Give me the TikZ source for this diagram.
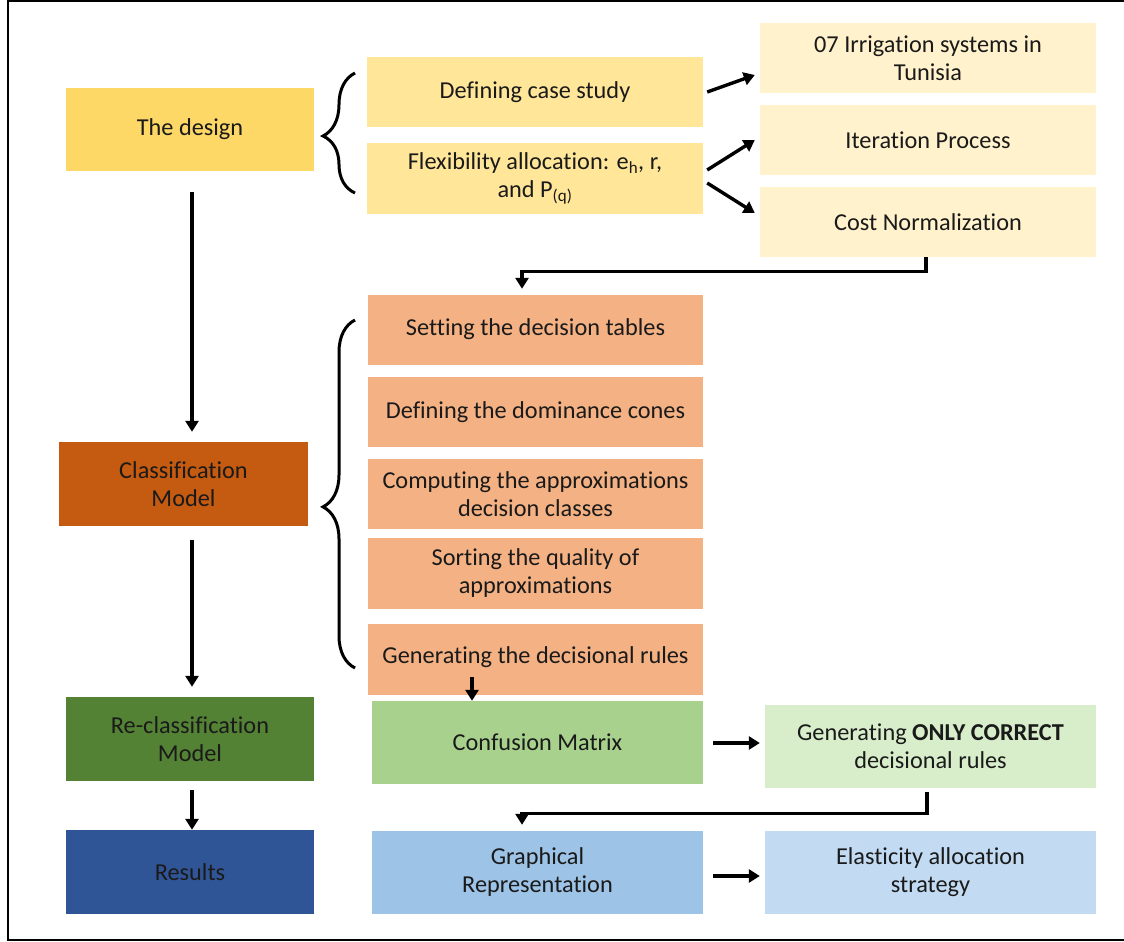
\documentclass[tikz,border=0pt]{standalone}
\usepackage{fontspec}
\setmainfont[Ligatures=NoCommon]{Carlito}
\usetikzlibrary{arrows.meta,decorations.pathreplacing,calc}
\definecolor{cDesign}{HTML}{FDD866}
\definecolor{cYel}{HTML}{FFE699}
\definecolor{cYelL}{HTML}{FFF2CC}
\definecolor{cClass}{HTML}{C55A11}
\definecolor{cOra}{HTML}{F4B183}
\definecolor{cRecl}{HTML}{548235}
\definecolor{cGrn}{HTML}{A9D18E}
\definecolor{cGrnL}{HTML}{D8EECB}
\definecolor{cRes}{HTML}{2F5597}
\definecolor{cBlu}{HTML}{9DC3E6}
\definecolor{cBluL}{HTML}{C2DBF3}
\definecolor{cTxt}{HTML}{1A1A1A}
\tikzset{
  box/.style={rectangle, inner sep=0pt, align=center, text=cTxt,
    font=\fontsize{24.3}{28}\selectfont},
  arr/.style={line width=3.4pt, -{Triangle[length=11pt,width=13pt]}},
  brc/.style={line width=3pt, decorate, decoration={brace, amplitude=32pt}}
}
\newcommand\bx[7]{\node[box, fill=#6, minimum width={(#4-#2)*1pt}, minimum height={(#5-#3)*1pt}] (#1) at ({(#2+#4)/2},{(#3+#5)/2}) {#7};}
\begin{document}
\begin{tikzpicture}[x=1pt,y=-1pt]
\useasboundingbox (0,0) rectangle (1124,942);
\draw[line width=2.4pt] (8,1) rectangle (1134,940);
% left column
\bx{design}{66}{88}{314}{171}{cDesign}{The design}
\bx{class}{59}{442}{308}{526}{cClass}{Classification\\Model}
\bx{recl}{66}{697}{314}{781}{cRecl}{Re-classification\\Model}
\bx{res}{66}{830}{314}{914}{cRes}{Results}
% design branch
\bx{defcase}{367}{57}{703}{127}{cYel}{Defining case study}
\bx{flex}{367}{143}{703}{214}{cYel}{Flexibility allocation: e\textsubscript{h}, r,\\and P\textsubscript{(q)}}
\bx{irr}{760}{23}{1096}{93}{cYelL}{07 Irrigation systems in\\Tunisia}
\bx{iter}{760}{105}{1096}{175}{cYelL}{Iteration Process}
\bx{cost}{760}{187}{1096}{257}{cYelL}{Cost Normalization}
% classification branch
\bx{set}{368}{295}{703}{365}{cOra}{\raisebox{6pt}{Setting the decision tables}}
\bx{dom}{368}{377}{703}{447}{cOra}{\raisebox{3pt}{Defining the dominance cones}}
\bx{comp}{368}{459}{703}{529}{cOra}{Computing the approximations\\decision classes}
\bx{sort}{368}{538}{703}{609}{cOra}{Sorting the quality of\\approximations}
\bx{gen}{368}{624}{703}{695}{cOra}{\raisebox{8pt}{Generating the decisional rules}}
% re-classification branch
\bx{conf}{372}{701}{703}{784}{cGrn}{Confusion Matrix}
\bx{only}{765}{705}{1096}{788}{cGrnL}{Generating \textbf{ONLY CORRECT}\\decisional rules}
% results branch
\bx{graph}{372}{831}{703}{914}{cBlu}{Graphical\\Representation}
\bx{elas}{765}{831}{1096}{914}{cBluL}{Elasticity allocation\\strategy}
% braces
\draw[brc, decoration={aspect=0.475}] (355,193) -- (355,73);
\draw[brc, decoration={aspect=0.463}] (355,668) -- (355,320);
% left column arrows
\draw[arr, shorten <=21pt, shorten >=10pt] ([xshift=2pt]design.south) -- ([xshift=2pt]design.south |- class.north);
\draw[arr, shorten <=14pt, shorten >=10pt] ([xshift=2pt]design.south |- class.south) -- ([xshift=2pt]design.south |- recl.north);
\draw[arr, shorten <=9pt] ([xshift=2pt]recl.south) -- ([xshift=2pt]res.north);
% design branch arrows
\draw[arr] ([xshift=4pt]defcase.east) -- ([xshift=-5pt,yshift=-17pt]irr.west);
\draw[arr] ([xshift=4pt,yshift=8.5pt]flex.east) -- ([xshift=-5pt]iter.west);
\draw[arr] ([xshift=4pt,yshift=-4.5pt]flex.east) -- ([xshift=-5pt,yshift=9pt]cost.west);
% elbow to classification steps
\draw[arr, shorten >=6pt] ([xshift=-2pt]cost.south) -- ++(0,14) -| ([xshift=-13.5pt]set.north);
% generating to confusion
\draw[arr] ([xshift=-63.5pt,yshift=18pt]gen.south) -- ([xshift=-65.5pt]conf.north);
\draw[arr] ([xshift=10pt,yshift=-0.5pt]conf.east) -- ([xshift=-5pt,yshift=3.5pt]only.west);
\draw[arr, shorten >=6pt] ([xshift=-3.5pt,yshift=-4pt]only.south) -- ++(0,21) -| ([xshift=-15.5pt]graph.north);
\draw[arr] ([xshift=10pt,yshift=-3.5pt]graph.east) -- ([xshift=-5pt,yshift=-3.5pt]elas.west);
\end{tikzpicture}
\end{document}
